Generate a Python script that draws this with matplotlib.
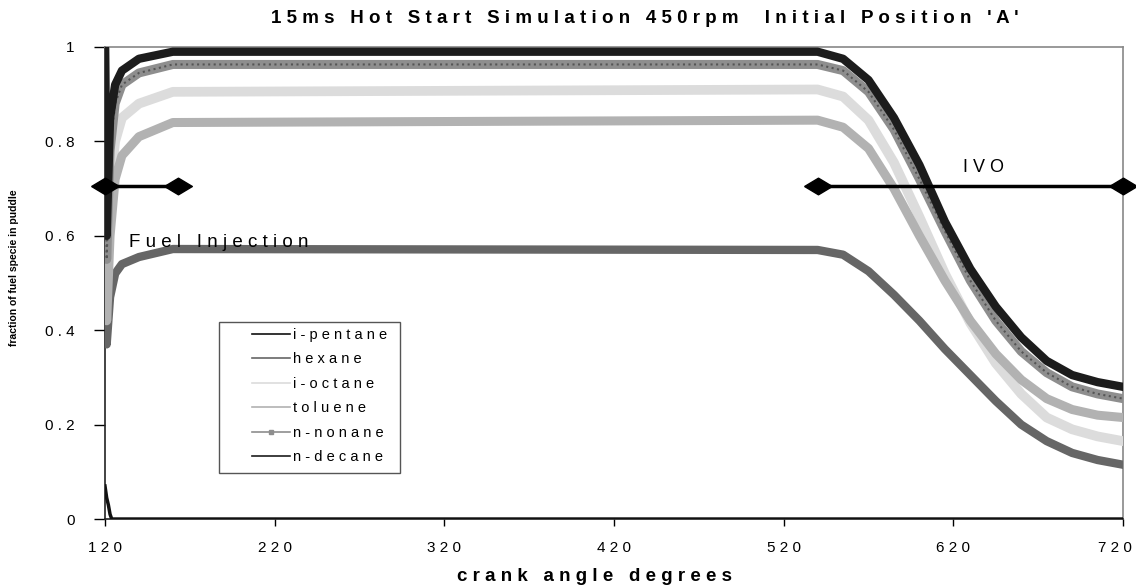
import numpy as np
import matplotlib.pyplot as plt
from matplotlib.lines import Line2D
from matplotlib.path import Path
from matplotlib.patches import Rectangle
from matplotlib.transforms import ScaledTranslation

plt.rcParams['font.family'] = ['Liberation Sans', 'DejaVu Sans']

crank = [120, 121, 123, 126, 130, 140, 160, 540, 555, 570, 585, 600,
         615, 630, 645, 660, 675, 690, 705, 720]

# fraction of each fuel specie left in the puddle
i_pentane_crank = [120, 121, 122, 123, 124, 720]
i_pentane = [0.07, 0.045, 0.03, 0.01, 0.0, 0.0]
hexane = [0.62, 0.37, 0.47, 0.52, 0.54, 0.555, 0.572, 0.570, 0.560, 0.525,
          0.475, 0.420, 0.360, 0.305, 0.250, 0.200, 0.165, 0.140, 0.125, 0.115]
i_octane = [0.80, 0.50, 0.70, 0.80, 0.85, 0.88, 0.905, 0.910, 0.895, 0.845,
            0.755, 0.640, 0.520, 0.415, 0.330, 0.265, 0.215, 0.190, 0.175, 0.165]
toluene = [0.70, 0.42, 0.60, 0.72, 0.77, 0.81, 0.840, 0.845, 0.830, 0.785,
           0.700, 0.600, 0.505, 0.420, 0.350, 0.295, 0.255, 0.232, 0.220, 0.215]
n_nonane = [0.99, 0.55, 0.78, 0.88, 0.92, 0.945, 0.963, 0.963, 0.950, 0.905,
            0.825, 0.720, 0.610, 0.505, 0.420, 0.355, 0.310, 0.280, 0.265, 0.255]
n_decane = [1.0, 0.60, 0.85, 0.92, 0.95, 0.975, 0.990, 0.990, 0.975, 0.930,
            0.850, 0.750, 0.630, 0.530, 0.450, 0.385, 0.335, 0.305, 0.290, 0.280]

# event bars
event_level = 0.705
fuel_injection = [120, 163]
ivo = [540, 720]

xticks = [120, 220, 320, 420, 520, 620, 720]
yticks = [0, 0.2, 0.4, 0.6, 0.8, 1]


def spaced(s):
    return ' '.join(s)


def spaced_words(s, gap='   '):
    return gap.join(spaced(w) for w in s.split(' '))


fig = plt.figure(figsize=(11.36, 5.86), dpi=100)
ax = fig.add_axes([0.0924, 0.1143, 0.8962, 0.8055])

ax.plot(i_pentane_crank, i_pentane, color='#111111', lw=2.5, zorder=3)
ax.plot(crank, hexane, color='#666666', lw=6, zorder=3)
ax.plot(crank, i_octane, color='#dcdcdc', lw=7, zorder=3)
ax.plot(crank, toluene, color='#b2b2b2', lw=6.5, zorder=3)
ax.plot(crank, n_nonane, color='#8e8e8e', lw=6.5, zorder=4)
ax.plot(crank, n_nonane, color='#555555', lw=1.5, ls=':', zorder=4)
ax.plot(crank, n_decane, color='#1c1c1c', lw=6, zorder=5)

# event bars with flat diamond ends
diamond = Path([(-1, 0), (0, 0.6), (1, 0), (0, -0.6), (-1, 0)])
for span in (fuel_injection, ivo):
    ax.plot(span, [event_level] * 2, color='black', lw=2.5,
            marker=diamond, markersize=20, clip_on=False, zorder=6)
ax.text(134, 0.585, spaced_words('Fuel Injection'),
        fontsize=13.5, va='center', ha='left')
ax.text(638, 0.744, spaced('IVO'), fontsize=13, va='center', ha='center')

ax.set_xlim(120, 720)
ax.set_ylim(0, 1)
ax.set_xticks(xticks)
ax.set_xticklabels([spaced(str(t)) for t in xticks], fontsize=11)
ax.set_yticks(yticks)
ax.set_yticklabels([spaced(f'{t:g}') for t in yticks], fontsize=11)
ax.tick_params(axis='x', direction='out', length=5, width=1, pad=11)
ax.tick_params(axis='y', direction='out', length=8, width=1, pad=14)
last = ax.get_xticklabels()[-1]
last.set_transform(last.get_transform() + ScaledTranslation(-0.08, 0, fig.dpi_scale_trans))

for side in ('top', 'right'):
    ax.spines[side].set_color('#888888')
    ax.spines[side].set_linewidth(1.2)
for side in ('left', 'bottom'):
    ax.spines[side].set_color('#222222')
    ax.spines[side].set_linewidth(1.2)

ax.set_title(spaced_words("15ms Hot Start Simulation 450rpm") + '     '
             + spaced_words("Initial Position 'A'"),
             fontsize=13.5, fontweight='bold', x=0.53, pad=17)
ax.set_xlabel(spaced_words('crank angle degrees'),
              fontsize=13.5, fontweight='bold', labelpad=9, x=0.481)
fig.text(14 / 1136, 1 - 268 / 586, 'fraction of fuel specie in puddle',
         fontsize=7.5, fontweight='bold', rotation=90, ha='center', va='center')

# legend box drawn separately so the handles sit inside it like the original
ax.add_patch(Rectangle((0.112, 0.0975), 0.178, 0.3195, transform=ax.transAxes,
                       facecolor='white', edgecolor='#555555', lw=1.0, zorder=7))
handles = [
    Line2D([], [], color='#111111', lw=1.2),
    Line2D([], [], color='#666666', lw=1.2),
    Line2D([], [], color='#dcdcdc', lw=1.2),
    Line2D([], [], color='#b2b2b2', lw=1.2),
    Line2D([], [], color='#8e8e8e', lw=1.2, marker='s', markersize=3),
    Line2D([], [], color='#1c1c1c', lw=1.2),
]
labels = ['i-pentane', 'hexane', 'i-octane', 'toluene', 'n-nonane', 'n-decane']
leg = ax.legend(handles, [spaced(l) for l in labels], loc='upper left',
                bbox_to_anchor=(0.1444, 0.405), fontsize=10.5, frameon=False,
                handlelength=2.6, handletextpad=0.2, labelspacing=0.72,
                borderpad=0, borderaxespad=0)
leg.set_zorder(8)

fig.savefig('out.png', dpi=100)
